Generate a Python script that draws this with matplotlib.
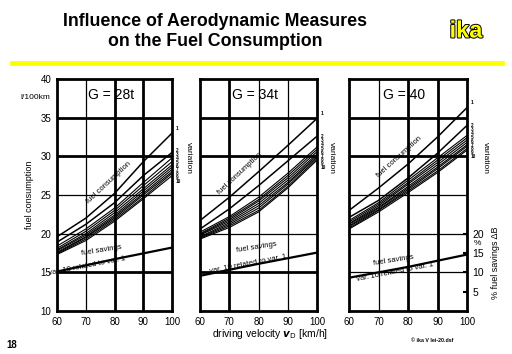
import matplotlib.pyplot as plt
import matplotlib.patheffects as pe

# driving velocity [km/h]
speeds = [60, 70, 80, 90, 100]

# fuel consumption [l/100km], variations 1..10
fc_28t = [
    [19.6, 22.0, 25.2, 29.3, 33.0],
    [18.9, 21.2, 24.0, 27.5, 30.5],
    [18.4, 20.6, 23.3, 26.6, 29.8],
    [18.1, 20.3, 23.0, 26.2, 29.3],
    [17.9, 20.0, 22.7, 25.8, 28.9],
    [17.8, 19.8, 22.4, 25.5, 28.6],
    [17.6, 19.6, 22.2, 25.2, 28.3],
    [17.5, 19.5, 22.0, 25.0, 28.0],
    [17.4, 19.3, 21.8, 24.7, 27.8],
    [17.3, 19.1, 21.6, 24.5, 27.5],
]
fc_34t = [
    [21.7, 24.7, 28.0, 31.4, 34.9],
    [20.6, 23.2, 26.2, 29.4, 32.6],
    [20.2, 22.2, 24.7, 27.8, 31.2],
    [20.0, 22.0, 24.4, 27.5, 30.9],
    [19.9, 21.8, 24.2, 27.2, 30.6],
    [19.8, 21.6, 23.9, 26.9, 30.3],
    [19.6, 21.4, 23.6, 26.6, 30.1],
    [19.5, 21.2, 23.3, 26.4, 29.9],
    [19.4, 21.0, 23.0, 26.1, 29.7],
    [19.3, 20.8, 22.8, 25.9, 29.5],
]
fc_40t = [
    [23.0, 25.9, 29.0, 32.5, 36.3],
    [22.1, 24.3, 27.2, 30.4, 34.0],
    [21.7, 24.0, 26.9, 29.8, 32.7],
    [21.5, 23.8, 26.6, 29.5, 32.4],
    [21.3, 23.6, 26.4, 29.2, 32.1],
    [21.2, 23.4, 26.1, 28.9, 31.8],
    [21.0, 23.3, 25.9, 28.6, 31.5],
    [20.9, 23.1, 25.7, 28.4, 31.3],
    [20.7, 23.0, 25.5, 28.1, 31.0],
    [20.6, 22.8, 25.3, 27.9, 30.8],
]

# fuel savings [%] of var. 10 related to var. 1
sav_speeds = [60, 80, 100]
sav_28t = [10.2, 13.4, 16.4]
sav_34t = [9.1, 12.2, 15.1]
sav_40t = [8.6, 11.4, 14.6]

titles = ["G = 28t", "G = 34t", "G = 40"]
x_ticks = [60, 70, 80, 90, 100]
y_ticks = [10, 15, 20, 25, 30, 35, 40]
pct_ticks = [5, 10, 15, 20]

plt.rcParams['font.family'] = ['Liberation Sans', 'DejaVu Sans']

W, H = 512, 354
fig = plt.figure(figsize=(W / 100, H / 100), dpi=100)


def px(x, y):
    return x / W, 1 - y / H


# header
fig.text(*px(215, 22), "Influence of Aerodynamic Measures", ha='center', va='center',
         fontsize=12.8, fontweight='bold')
fig.text(*px(215, 42), "on the Fuel Consumption", ha='center', va='center',
         fontsize=12.8, fontweight='bold')
fig.text(*px(466, 31), "ika", ha='center', va='center', fontsize=17, fontweight='bold',
         color='#ffff00', path_effects=[pe.Stroke(linewidth=1.4, foreground='black'), pe.Normal()])
fig.add_artist(plt.Line2D([12 / W, 502 / W], [1 - 63 / H, 1 - 63 / H], color='#ffff00', lw=3.5))

ax_left = [57, 200, 349]
ax_width = [115, 117, 118]
top, bottom = 79, 311
thick_x = [[80, 90], [70], [80, 90]]
thick_y = [[35, 30, 15], [35, 30, 15], [35, 30]]
var_x = [1.14, 1.12, 1.16]

data = [fc_28t, fc_34t, fc_40t]
savings = [sav_28t, sav_34t, sav_40t]

# annotation positions (data coords)
fc_lbl = [(78.0, 26.6, 43), (73.6, 27.8, 43), (77.1, 29.9, 42)]
sv_lbl = [(75.5, 17.8, 9), (79.4, 18.2, 9), (75.0, 16.5, 9)]
rel_lbl = [(70.3, 15.8, 11), (76.6, 16.1, 11), (75.5, 15.0, 11)]

for k in range(3):
    l, b = px(ax_left[k], bottom)
    ax = fig.add_axes([l, b, ax_width[k] / W, (bottom - top) / H])
    ax.set_xlim(60, 100)
    ax.set_ylim(10, 40)
    for v in [70, 80, 90]:
        ax.axvline(v, color='black', lw=2.0 if v in thick_x[k] else 0.9, zorder=1)
    for v in [15, 20, 25, 30, 35]:
        ax.axhline(v, color='black', lw=2.0 if v in thick_y[k] else 0.9, zorder=1)
    for s in ax.spines.values():
        s.set_linewidth(2)

    curves = data[k]
    for i, curve in enumerate(curves):
        ax.plot(speeds, curve, color='black', lw=1.1 if i < 2 else 0.8, zorder=3)

    # variation numbers: 1 at its curve end, 2..10 stacked in a column
    ax.text(101.2, curves[0][-1] + 0.6, "1", fontsize=3.6, fontweight='bold',
            va='center', ha='left', clip_on=False)
    ends = [c[-1] for c in curves[1:]]
    mid = sum(ends) / len(ends)
    n = len(ends)
    for j in range(n):
        y = mid + 0.5 * ((n - 1) / 2 - j)
        ax.text(101.2, y, str(j + 2), fontsize=3.4, fontweight='bold',
                va='center', ha='left', clip_on=False)
    ax.text(var_x[k], 0.66, "variation", transform=ax.transAxes, rotation=-90,
            fontsize=6, ha='center', va='center')

    ax.set_xticks(x_ticks)
    ax.tick_params(length=0, labelsize=7, pad=4)
    if k == 0:
        ax.set_yticks(y_ticks)
        ax.set_yticklabels([str(t) for t in y_ticks])
    else:
        ax.set_yticks([])

    ax.text(0.47, 0.93, titles[k], transform=ax.transAxes, ha='center', va='center', fontsize=10)

    x, y, r = fc_lbl[k]
    ax.text(x, y, "fuel consumption", rotation=r, fontsize=5.5, ha='center', va='center', zorder=4)
    x, y, r = sv_lbl[k]
    ax.text(x, y, "fuel savings", rotation=r, fontsize=5.5, ha='center', va='center', zorder=4)
    x, y, r = rel_lbl[k]
    ax.text(x, y, "var. 10 related to var. 1", rotation=r, fontsize=5.5, ha='center',
            va='center', zorder=4)

    ax2 = ax.twinx()
    ax2.set_ylim(0, 60)
    ax2.plot(sav_speeds, savings[k], color='black', lw=1.6, zorder=3)
    for s in ax2.spines.values():
        s.set_visible(False)
    if k < 2:
        ax2.set_yticks([])
    else:
        ax2.set_yticks(pct_ticks)
        ax2.tick_params(length=3, direction='in', labelsize=7.5, pad=4, width=1.5)
        ax2.text(102.3, 17.4, "%", fontsize=6, ha='left', va='center', clip_on=False)
        ax2.text(1.24, 0.21, "% fuel savings \u0394B", transform=ax2.transAxes, rotation=90,
                 fontsize=6.5, ha='center', va='center')

    if k == 0:
        ax.text(-0.24, 0.50, "fuel consumption", transform=ax.transAxes, rotation=90,
                fontsize=6.5, ha='center', va='center')
        ax.text(-0.32, 0.92, "l/100km", transform=ax.transAxes, fontsize=6, ha='left', va='center')

fig.text(*px(270, 334), r"driving velocity $\mathbfit{v}_{\mathrm{D}}$ [km/h]", ha='center',
         va='center', fontsize=7.5)
fig.text(*px(12, 345), "18", ha='center', va='center', fontsize=7, fontweight='bold')
fig.text(*px(432, 341), "\u00a9 ika V lei-20.dsf", ha='center', va='center', fontsize=3.8,
         fontweight='bold')

fig.savefig("out.png", dpi=100)
